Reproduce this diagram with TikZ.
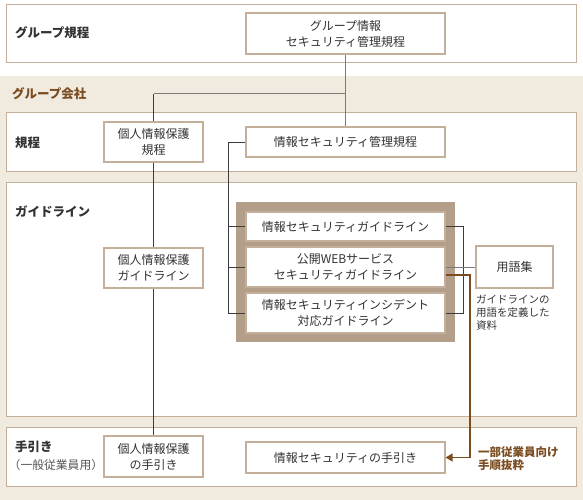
\documentclass[tikz,border=0pt]{standalone}
\usepackage{fontspec}
\setmainfont{Noto Sans CJK JP}
\usetikzlibrary{arrows.meta}
\definecolor{beige}{HTML}{F1EADF}
\definecolor{tan}{HTML}{C3AF9A}
\definecolor{framec}{HTML}{B39F89}
\definecolor{brn}{HTML}{7A4C20}
\definecolor{txt}{HTML}{333333}
\definecolor{subtxt}{HTML}{555555}
\definecolor{ln}{HTML}{3C3C3C}
\definecolor{lngray}{HTML}{7A7A7A}
\tikzset{
  band/.style={draw=tan, line width=1pt, fill=white},
  box/.style={draw=tan, line width=1.2pt, fill=white, text=txt, font=\fontsize{12}{16}\selectfont, align=center, inner sep=0pt},
  lbl/.style={anchor=west, font=\bfseries\fontsize{12.5}{15}\selectfont, text=txt, inner sep=0pt},
  conn/.style={draw=ln, line width=1pt},
  connlight/.style={draw=lngray, line width=1pt},
  brarrow/.style={draw=brn, line width=1.6pt, -{Triangle[length=7pt,width=8pt]}}
}
\begin{document}
\begin{tikzpicture}[x=1pt,y=-1pt]
\useasboundingbox (0,0) rectangle (583,500);
\fill[white] (0,0) rectangle (583,76);
\fill[beige] (0,76) rectangle (583,500);
% bands
\path[band] (6.5,4.5) rectangle (576.5,63);
\path[band] (6.5,112.5) rectangle (576.5,171);
\path[band] (6.5,182.5) rectangle (576.5,416.5);
\path[band] (6.5,427) rectangle (576.5,486);
% frame
\fill[framec] (236,202) rectangle (455,342);
% nodes
\node[box, minimum width=199pt, minimum height=41pt] (gtop) at (345.5,33.5) {グループ情報\\セキュリティ管理規程};
\node[box, minimum width=99pt, minimum height=40pt] (kj1) at (153.5,142) {個人情報保護\\規程};
\node[box, minimum width=199pt, minimum height=30pt] (jk) at (345.5,142) {情報セキュリティ管理規程};
\node[box, minimum width=99pt, minimum height=40pt] (kj2) at (153.5,268) {個人情報保護\\ガイドライン};
\node[box, minimum width=199pt, minimum height=29pt] (g1) at (345.5,226.5) {情報セキュリティガイドライン};
\node[box, minimum width=199pt, minimum height=40pt] (g2) at (345.5,267) {公開WEBサービス\\セキュリティガイドライン};
\node[box, minimum width=199pt, minimum height=40pt] (g3) at (345.5,313) {情報セキュリティインシデント\\対応ガイドライン};
\node[box, minimum width=77pt, minimum height=42pt] (yg) at (514.5,267) {用語集};
\node[box, minimum width=99pt, minimum height=41pt] (kj3) at (153.5,456.5) {個人情報保護\\の手引き};
\node[box, minimum width=199pt, minimum height=31pt] (jt) at (345.5,457.5) {情報セキュリティの手引き};
% connectors
\coordinate (br) at (345.5,94);
\coordinate (brL) at (153.5,94);
\coordinate (lx) at (228,0);
\coordinate (rx) at (463,0);
\coordinate (bx) at (470,0);
\coordinate (bs) at ([yshift=-8pt]g2.east);
\draw[connlight] (gtop.south) -- (jk.north);
\draw[connlight] (br) -- (brL);
\draw[conn] (brL) -- (kj1.north);
\draw[conn] (kj1.south) -- (kj2.north);
\draw[conn] (kj2.south) -- (kj3.north);
\draw[conn] (jk.west) -- (lx |- jk.west) -- (lx |- g3.west) -- (g3.west);
\draw[conn] (lx |- g1.west) -- (g1.west);
\draw[conn] (lx |- g2.west) -- (g2.west);
\draw[conn] (g1.east) -- (rx |- g1.east) -- (rx |- g3.east) -- (g3.east);
\draw[connlight] (g2.east) -- (yg.west);
\draw[brarrow] (bs) -- (bx |- bs) -- (bx |- jt.east) -- (jt.east);
% labels
\node[lbl] (l1) at (15,33) {グループ規程};
\node[lbl, text=brn] (l2) at (12,93.5) {グループ会社};
\node[lbl] (l3) at (15,142.5) {規程};
\node[lbl] (l4) at (15,211.5) {ガイドライン};
\node[lbl] (l5) at (15,447) {手引き};
\node[anchor=west, inner sep=0pt, text=subtxt, font=\fontsize{11.8}{13}\selectfont] (l6) at (8.5,465.5) {（一般従業員用）};
\node[anchor=west, align=left, inner sep=0pt, text=txt, font=\fontsize{10.5}{13}\selectfont] (desc) at (476,313) {ガイドラインの\\用語を定義した\\資料};
\node[anchor=west, align=left, inner sep=0pt, text=brn, font=\bfseries\fontsize{11.5}{13}\selectfont] (note) at (478,459) {一部従業員向け\\手順抜粋};
\end{tikzpicture}
\end{document}
